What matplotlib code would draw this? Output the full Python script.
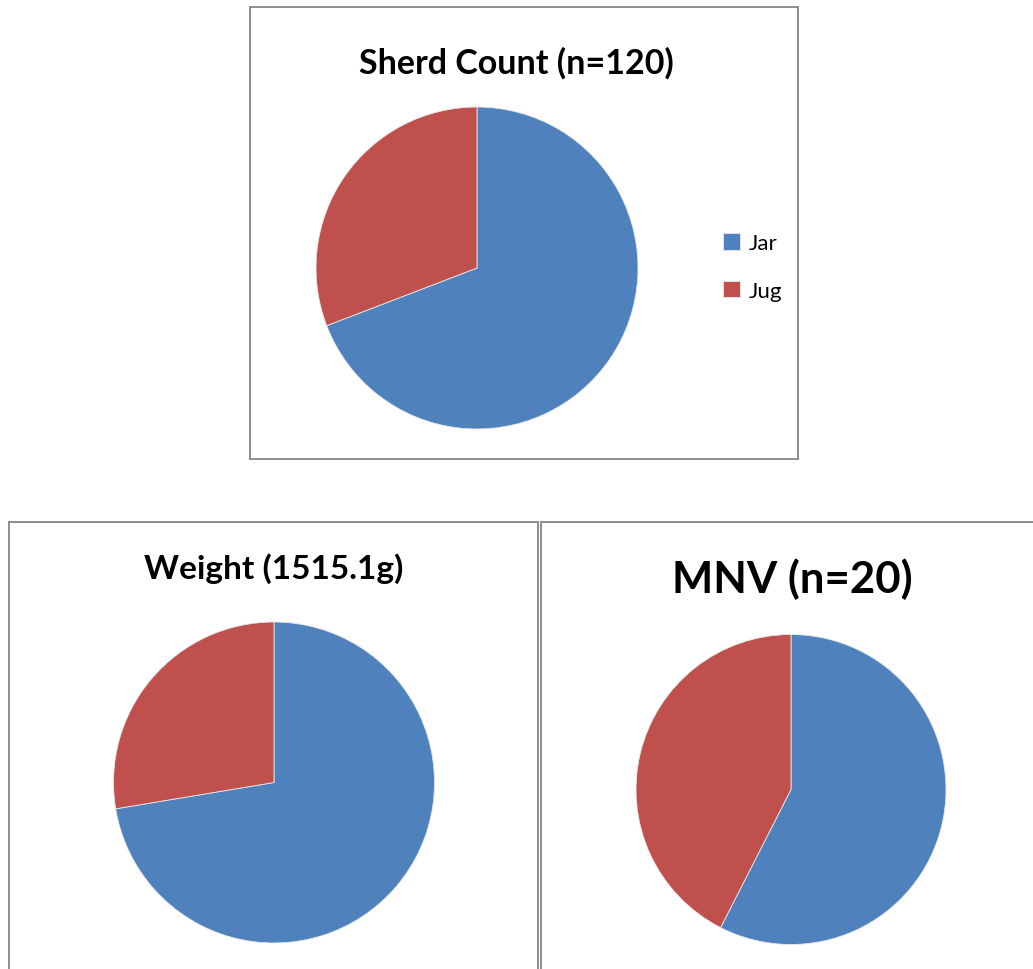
import matplotlib
matplotlib.use("Agg")
import matplotlib.pyplot as plt
from matplotlib.patches import Rectangle

W, H = 1033, 970

labels = ["Jar", "Jug"]
colors = ["#4F81BD", "#C0504D"]

sherd_count = [83, 37]
weight = [1096.6, 418.5]
mnv = [11.5, 8.5]

titles = ["Sherd Count (n=120)", "Weight (1515.1g)", "MNV (n=20)"]

plt.rcParams['font.family'] = ['Lato', 'DejaVu Sans']

fig = plt.figure(figsize=(W / 100, H / 100), dpi=100)


def box(x0, y0, x1, y1):
    # pixel coords, y measured from top
    r = Rectangle((x0 / W, 1 - y1 / H), (x1 - x0) / W, (y1 - y0) / H,
                  transform=fig.transFigure, fill=False,
                  edgecolor="#8c8c8c", linewidth=1.4)
    fig.patches.append(r)


def pie_at(cx, cy, r, values):
    ax = fig.add_axes([(cx - r) / W, 1 - (cy + r) / H, 2 * r / W, 2 * r / H])
    wedges, _ = ax.pie(values, colors=colors, startangle=90, counterclock=False,
                       radius=1, wedgeprops=dict(edgecolor="#e8e8e8", linewidth=0.6))
    ax.set_xlim(-1.0, 1.0)
    ax.set_ylim(-1.0, 1.0)
    ax.set_aspect("auto")
    ax.axis("off")
    return wedges


box(250, 8, 798, 460)
box(9, 523, 538, 990)
box(541, 523, 1050, 990)

wedges = pie_at(477, 269, 161, sherd_count)
pie_at(274, 783.5, 160.5, weight)
pie_at(791, 790.5, 155, mnv)

fig.text(516 / W, 1 - 63 / H, titles[0], ha="center", va="center",
         fontsize=24.5, fontweight="bold")
fig.text(274 / W, 1 - 569 / H, titles[1], ha="center", va="center",
         fontsize=24, fontweight="bold")
fig.text(792 / W, 1 - 579 / H, titles[2], ha="center", va="center",
         fontsize=31.5, fontweight="bold")

fig.legend(wedges, labels, loc="center left",
           bbox_to_anchor=(703 / W, 1 - 268 / H), frameon=False,
           fontsize=16, handlelength=0.75, handleheight=0.75,
           handletextpad=0.4, labelspacing=1.25)

fig.savefig("out.png", dpi=100)
